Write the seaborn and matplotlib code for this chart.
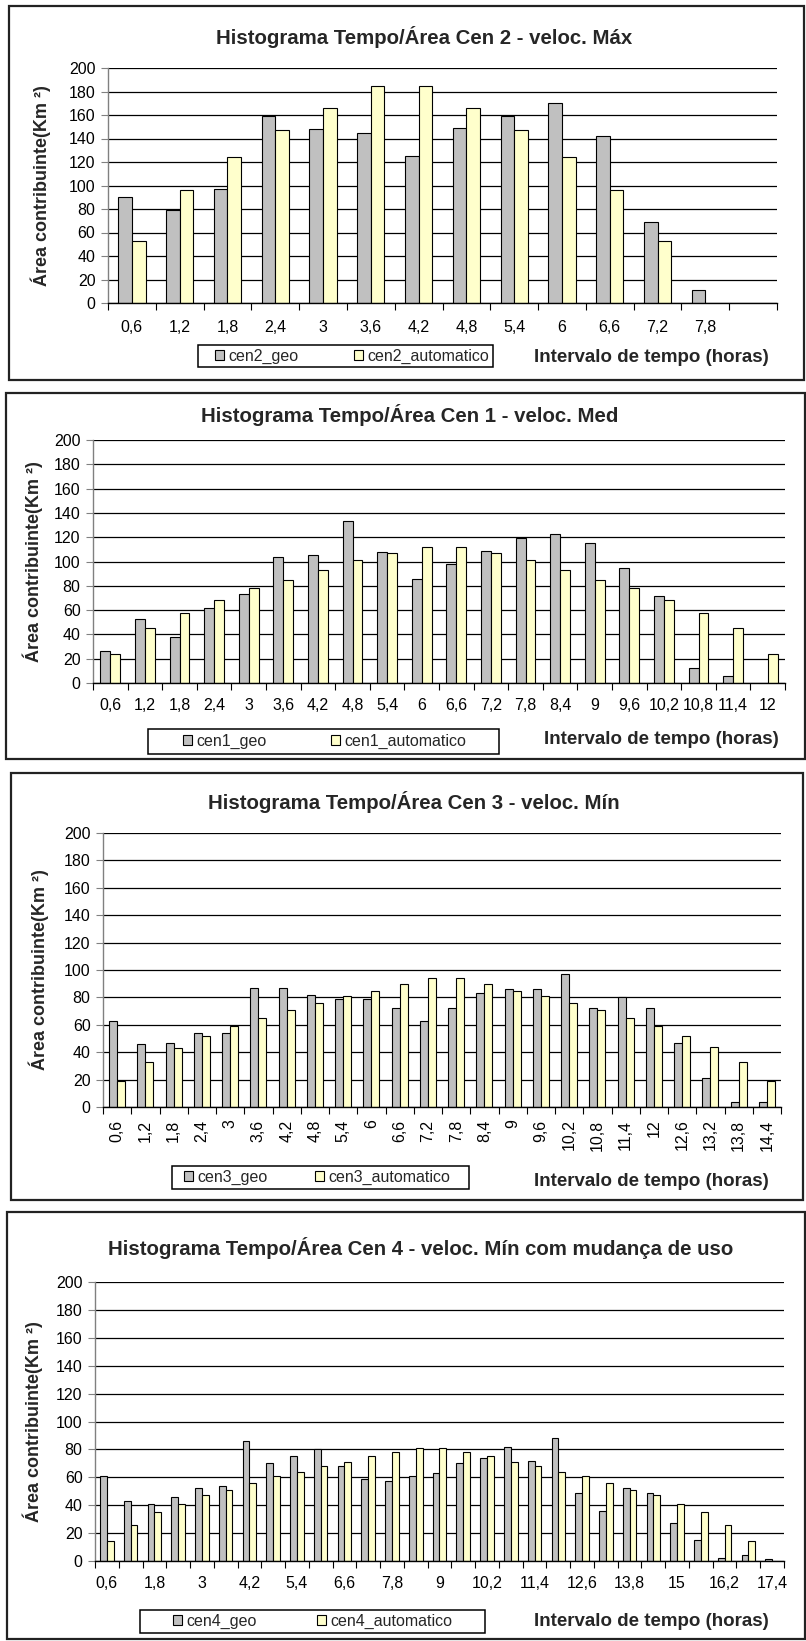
import numpy as np
import pandas as pd
import matplotlib
matplotlib.use("Agg")
import matplotlib.pyplot as plt
import seaborn as sns
from matplotlib.patches import Rectangle, Patch

sns.set_theme(style="white")
plt.rcParams['font.family'] = ['Liberation Sans', 'DejaVu Sans']

NAN = np.nan

# ---------------- data ----------------
cen2_labels = ["0,6", "1,2", "1,8", "2,4", "3", "3,6", "4,2", "4,8", "5,4", "6",
               "6,6", "7,2", "7,8", " "]
cen2_geo = [90, 79, 97, 159, 148, 145, 125, 149, 159, 170, 142, 69, 11, NAN]
cen2_auto = [53, 96, 124, 147, 166, 185, 185, 166, 147, 124, 96, 53, NAN, NAN]

cen1_labels = ["0,6", "1,2", "1,8", "2,4", "3", "3,6", "4,2", "4,8", "5,4", "6",
               "6,6", "7,2", "7,8", "8,4", "9", "9,6", "10,2", "10,8", "11,4", "12"]
cen1_geo = [26, 53, 38, 62, 73, 104, 105, 133, 108, 86, 98, 109, 119, 123, 115,
            95, 72, 12, 6, NAN]
cen1_auto = [24, 45, 58, 68, 78, 85, 93, 101, 107, 112, 112, 107, 101, 93, 85,
             78, 68, 58, 45, 24]

cen3_labels = ["0,6", "1,2", "1,8", "2,4", "3", "3,6", "4,2", "4,8", "5,4", "6",
               "6,6", "7,2", "7,8", "8,4", "9", "9,6", "10,2", "10,8", "11,4", "12",
               "12,6", "13,2", "13,8", "14,4"]
cen3_geo = [63, 46, 47, 54, 54, 87, 87, 82, 79, 79, 72, 63, 72, 83, 86, 86, 97,
            72, 80, 72, 47, 21, 4, 4]
cen3_auto = [19, 33, 43, 52, 59, 65, 71, 76, 81, 85, 90, 94, 94, 90, 85, 81, 76,
             71, 65, 59, 52, 44, 33, 19]

cen4_labels = ["0,6", "1,2", "1,8", "2,4", "3", "3,6", "4,2", "4,8", "5,4", "6",
               "6,6", "7,2", "7,8", "8,4", "9", "9,6", "10,2", "10,8", "11,4", "12",
               "12,6", "13,2", "13,8", "14,4", "15", "15,6", "16,2", "16,8", "17,4"]
cen4_geo = [61, 43, 41, 46, 52, 54, 86, 70, 75, 80, 68, 59, 57, 61, 63, 70, 74,
            82, 72, 88, 49, 36, 52, 49, 27, 15, 2, 4, 1.5]
cen4_auto = [14, 26, 35, 41, 47, 51, 56, 61, 64, 68, 71, 75, 78, 81, 81, 78, 75,
             71, 68, 64, 61, 56, 51, 47, 41, 35, 26, 14, NAN]

titles = ["Histograma Tempo/Área Cen 2 - veloc. Máx",
          "Histograma Tempo/Área Cen 1 - veloc. Med",
          "Histograma Tempo/Área Cen 3 - veloc. Mín",
          "Histograma Tempo/Área Cen 4 - veloc. Mín com mudança de uso"]
series_names = [("cen2_geo", "cen2_automatico"),
                ("cen1_geo", "cen1_automatico"),
                ("cen3_geo", "cen3_automatico"),
                ("cen4_geo", "cen4_automatico")]
y_ticks = list(range(0, 201, 20))
ylabel = "Área contribuinte(Km ²)"
xlabel = "Intervalo de tempo (horas)"

GRAY = "#C0C0C0"
YELLOW = "#FFFFCC"

W, H = 806, 1641
fig = plt.figure(figsize=(W / 100, H / 100), dpi=100)
fig.patch.set_facecolor("white")


def fx(px):
    return px / W


def fy(py):
    return 1 - py / H


# layout (pixel coords)
layouts = [
    dict(ax=(108, 777, 68, 303), box=(9, 804, 6, 380), title=(424, 37),
         xlab=(769, 357), leg=(198, 493, 345, 367), marks=(215, 354),
         ylab=41, rot=False, step=1, pad=12),
    dict(ax=(93, 785, 440, 683), box=(6, 805, 393, 759), title=(410, 415),
         xlab=(779, 739), leg=(148, 499, 729, 754), marks=(183, 331),
         ylab=33, rot=False, step=1, pad=10.5),
    dict(ax=(103, 781, 833, 1107), box=(11, 803, 773, 1200), title=(414, 802),
         xlab=(769, 1181), leg=(172, 469, 1166, 1189), marks=(184, 315),
         ylab=39, rot=True, step=1, pad=9),
    dict(ax=(95, 784, 1282, 1561), box=(7, 805, 1212, 1639), title=(421, 1248),
         xlab=(769, 1621), leg=(140, 485, 1610, 1633), marks=(173, 317),
         ylab=33, rot=False, step=2, pad=10.5),
]

datasets = [(cen2_labels, cen2_geo, cen2_auto),
            (cen1_labels, cen1_geo, cen1_auto),
            (cen3_labels, cen3_geo, cen3_auto),
            (cen4_labels, cen4_geo, cen4_auto)]

for i, (lay, (labels, geo, auto)) in enumerate(zip(layouts, datasets)):
    l, r, t, b = lay["ax"]
    ax = fig.add_axes([fx(l), fy(b), fx(r) - fx(l), fy(t) - fy(b)])
    g_name, a_name = series_names[i]
    df = pd.DataFrame({
        "cat": list(labels) * 2,
        "val": list(geo) + list(auto),
        "serie": [g_name] * len(labels) + [a_name] * len(labels),
    }).dropna()
    sns.barplot(data=df, x="cat", y="val", hue="serie", order=labels,
                hue_order=[g_name, a_name], palette=[GRAY, YELLOW],
                width=2 / 3.5, gap=0, dodge=True, errorbar=None,
                edgecolor="black", linewidth=0.8, legend=False, ax=ax,
                saturation=1)
    n = len(labels)
    ax.set_xlim(-0.5, n - 0.5)
    ax.set_ylim(0, 200)
    ax.set_yticks(y_ticks)
    ax.set_yticklabels([str(v) for v in y_ticks], fontsize=11.5)
    ax.set_xticks(np.arange(n + 1) - 0.5)
    ax.set_xticklabels([])
    ax.set_xticks(np.arange(n), minor=True)
    shown = [lab if (k % lay["step"] == 0) else "" for k, lab in enumerate(labels)]
    if lay["rot"]:
        ax.set_xticklabels(shown, minor=True, rotation=90, fontsize=11.5)
    else:
        ax.set_xticklabels(shown, minor=True, fontsize=11.5)
    ax.tick_params(axis="x", which="major", direction="out", length=5,
                   width=0.8, color="black", bottom=True)
    ax.tick_params(axis="x", which="minor", length=0, pad=lay["pad"],
                   colors="black", bottom=True)
    ax.tick_params(axis="y", which="major", direction="out", length=5,
                   width=0.8, color="#808080", left=True, pad=4,
                   labelcolor="black")
    ax.set_xlabel("")
    ax.set_ylabel("")
    ax.grid(axis="y", color="black", linewidth=0.9)
    ax.grid(axis="x", visible=False)
    ax.set_axisbelow(True)
    for s in ["top", "right"]:
        ax.spines[s].set_visible(False)
    ax.spines["left"].set_color("#808080")
    ax.spines["left"].set_linewidth(1)
    ax.spines["bottom"].set_color("black")
    ax.spines["bottom"].set_linewidth(1)
    ax.set_facecolor("white")

    # chart area border
    bx0, bx1, by0, by1 = lay["box"]
    fig.add_artist(Rectangle((fx(bx0), fy(by1)), fx(bx1) - fx(bx0),
                             fy(by0) - fy(by1), transform=fig.transFigure,
                             fill=False, edgecolor="#222222", linewidth=1.6))
    # title
    tx, ty = lay["title"]
    fig.text(fx(tx), fy(ty), titles[i], ha="center", va="center",
             fontsize=14.7, fontweight="bold")
    # axis labels
    xx, xy = lay["xlab"]
    fig.text(fx(xx), fy(xy), xlabel, ha="right", va="center", fontsize=13.5,
             fontweight="bold")
    fig.text(fx(lay["ylab"]), (fy(t) + fy(b)) / 2, ylabel, rotation=90,
             ha="center", va="center", fontsize=13, fontweight="bold")
    # legend: frame + two entries (Excel style, equal columns)
    lx0, lx1, ly0, ly1 = lay["leg"]
    fig.add_artist(Rectangle((fx(lx0), fy(ly1)), fx(lx1) - fx(lx0),
                             fy(ly0) - fy(ly1), transform=fig.transFigure,
                             fill=False, edgecolor="black", linewidth=1.1))
    cy = fy((ly0 + ly1) / 2)
    for name, col, mx in [(g_name, GRAY, lay["marks"][0]),
                          (a_name, YELLOW, lay["marks"][1])]:
        h = Patch(facecolor=col, edgecolor="black", linewidth=0.8, label=name)
        fig.legend(handles=[h], loc="center left", bbox_to_anchor=(fx(mx), cy),
                   fontsize=11.5, frameon=False, handlelength=0.55,
                   handleheight=0.55, handletextpad=0.3, borderpad=0,
                   borderaxespad=0)

fig.savefig("out.png", dpi=100, facecolor="white")
